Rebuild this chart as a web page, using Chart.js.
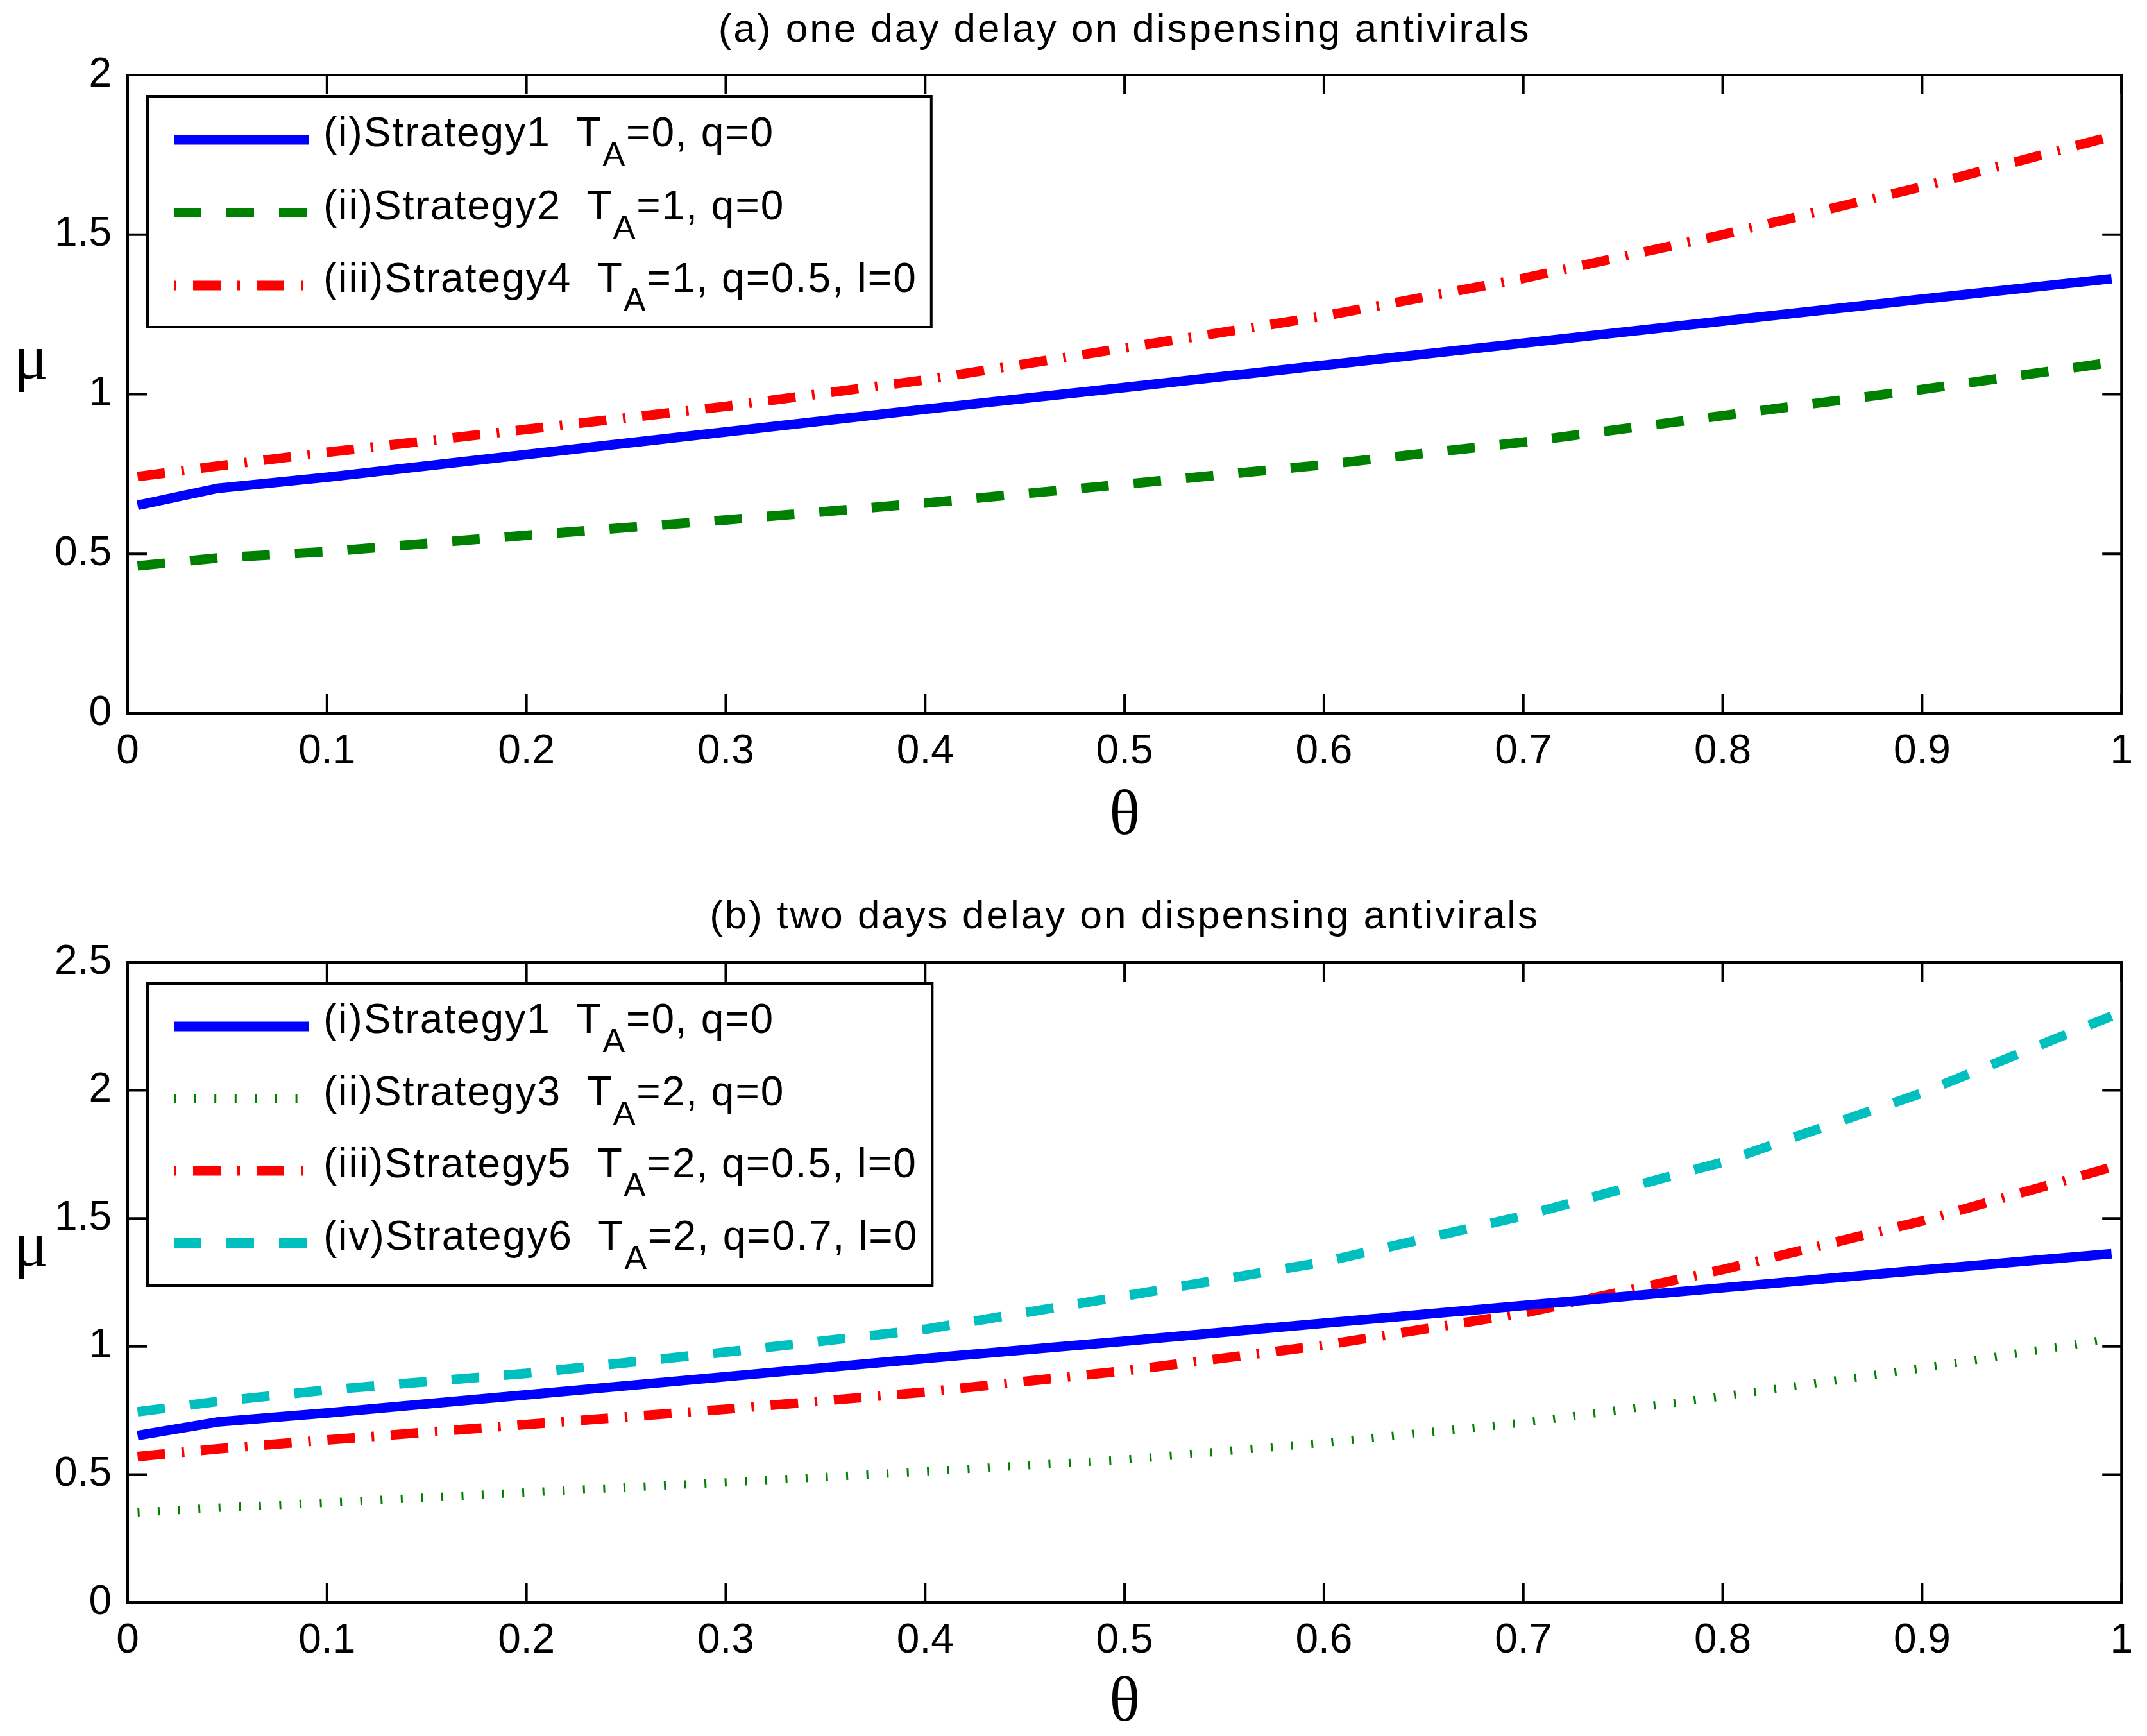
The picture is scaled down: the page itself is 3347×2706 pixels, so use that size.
<!DOCTYPE html>
<html lang="en">
<head>
<meta charset="utf-8">
<script src="https://cdn.jsdelivr.net/npm/chart.js@4.4.1/dist/chart.umd.min.js"></script>
<style>
    body { margin: 0; background: #fff; }
    canvas { position: absolute; left: 0; }
    #chartA { top: 0; }
    #chartB { top: 1353px; }
</style>
</head>
<body>
<canvas id="chartA" width="3347" height="1353"></canvas>
<canvas id="chartB" width="3347" height="1353"></canvas>
<script>
// theta values the curves were read at
var theta = [0.005, 0.045, 0.1, 0.2, 0.3, 0.4, 0.5, 0.6, 0.7, 0.8, 0.9, 0.995];

// mu values
var strategy1 = [0.652, 0.705, 0.740, 0.811, 0.882, 0.953, 1.021, 1.091, 1.160, 1.229, 1.298, 1.362];
var strategy2 = [0.462, 0.487, 0.507, 0.558, 0.606, 0.659, 0.718, 0.779, 0.850, 0.933, 1.015, 1.100];
var strategy4 = [0.742, 0.775, 0.818, 0.890, 0.962, 1.045, 1.145, 1.245, 1.363, 1.500, 1.650, 1.808];
var strategy3 = [0.352, 0.370, 0.390, 0.430, 0.469, 0.512, 0.558, 0.624, 0.702, 0.805, 0.915, 1.030];
var strategy5 = [0.570, 0.600, 0.635, 0.695, 0.755, 0.822, 0.905, 1.005, 1.130, 1.300, 1.490, 1.700];
var strategy6 = [0.745, 0.785, 0.830, 0.895, 0.978, 1.067, 1.197, 1.330, 1.510, 1.720, 1.990, 2.290];

var titleA = "(a) one day delay on dispensing antivirals";
var titleB = "(b) two days delay on dispensing antivirals";
var labelsA = ["(i)Strategy1  T", "(ii)Strategy2  T", "(iii)Strategy4  T"];
var labelsAEnd = ["=0, q=0", "=1, q=0", "=1, q=0.5, l=0"];
var labelsB = ["(i)Strategy1  T", "(ii)Strategy3  T", "(iii)Strategy5  T", "(iv)Strategy6  T"];
var labelsBEnd = ["=0, q=0", "=2, q=0", "=2, q=0.5, l=0", "=2, q=0.7, l=0"];
var subA = "A";

var xMax = 1, yMaxA = 2, yMaxB = 2.5;

var BLUE = '#0000ff', GREEN = '#008000', RED = '#ff0000', CYAN = '#00bfbf';
var SANS = '"Liberation Sans", Arial, sans-serif';
var SERIF = '"Liberation Serif", "Times New Roman", serif';

function pts(ys) {
    return theta.map(function(t, i) { return {x: t, y: ys[i]}; });
}

function line(label, ys, color, dash) {
    return {
        label: label,
        data: pts(ys),
        borderColor: color,
        borderWidth: dash && dash[0] < 5 ? 13 : 15,
        borderDash: dash || [],
        borderCapStyle: 'butt',
        borderJoinStyle: 'round',
        pointRadius: 0,
        tension: 0,
        fill: false
    };
}

function fmt(v) { return String(Number(v.toFixed(2))); }

// box, inward ticks, legend, titles drawn like the matlab figure
function frameLayer(cfg) {
    return {
        id: 'frameLayer',
        afterDatasetsDraw: function(chart) {
            var ctx = chart.ctx, a = chart.chartArea;
            var xs = chart.scales.x, ys = chart.scales.y;
            ctx.save();
            ctx.strokeStyle = '#000';
            ctx.lineWidth = 4;
            ctx.setLineDash([]);
            ctx.strokeRect(a.left, a.top, a.right - a.left, a.bottom - a.top);
            ctx.beginPath();
            xs.ticks.forEach(function(t) {
                var px = xs.getPixelForValue(t.value);
                ctx.moveTo(px, a.bottom); ctx.lineTo(px, a.bottom - 30);
                ctx.moveTo(px, a.top); ctx.lineTo(px, a.top + 30);
            });
            ys.ticks.forEach(function(t) {
                var py = ys.getPixelForValue(t.value);
                ctx.moveTo(a.left, py); ctx.lineTo(a.left + 30, py);
                ctx.moveTo(a.right, py); ctx.lineTo(a.right - 30, py);
            });
            ctx.stroke();

            // legend
            var mainFont = '64px ' + SANS, subFont = '52px ' + SANS;
            ctx.letterSpacing = '2px';
            var widths = cfg.pre.map(function(p, i) {
                ctx.font = mainFont;
                var w = ctx.measureText(p).width + ctx.measureText(cfg.post[i]).width;
                ctx.font = subFont;
                return w + ctx.measureText(subA).width;
            });
            var boxRight = 504 + Math.max.apply(null, widths) + 22;
            ctx.fillStyle = '#fff';
            ctx.fillRect(230, cfg.boxTop, boxRight - 230, cfg.boxBottom - cfg.boxTop);
            ctx.lineWidth = 4;
            ctx.strokeRect(230, cfg.boxTop, boxRight - 230, cfg.boxBottom - cfg.boxTop);

            chart.data.datasets.forEach(function(ds, i) {
                var y = cfg.row0 + i * cfg.rowGap;
                ctx.beginPath();
                ctx.strokeStyle = ds.borderColor;
                ctx.lineWidth = ds.borderWidth;
                ctx.lineCap = 'butt';
                ctx.setLineDash(ds.borderDash);
                ctx.lineDashOffset = cfg.dashOffset[i];
                ctx.moveTo(271, y);
                ctx.lineTo(482, y);
                ctx.stroke();
                ctx.setLineDash([]);

                ctx.fillStyle = '#000';
                ctx.textAlign = 'left';
                ctx.textBaseline = 'alphabetic';
                ctx.font = mainFont;
                var x = 504;
                ctx.fillText(cfg.pre[i], x, y + 10);
                x += ctx.measureText(cfg.pre[i]).width;
                ctx.font = subFont;
                ctx.fillText(subA, x, y + 40);
                x += ctx.measureText(subA).width;
                ctx.font = mainFont;
                ctx.fillText(cfg.post[i], x, y + 10);
            });

            // title
            ctx.fillStyle = '#000';
            ctx.textAlign = 'center';
            ctx.textBaseline = 'alphabetic';
            ctx.letterSpacing = '3px';
            ctx.font = '62px ' + SANS;
            ctx.fillText(cfg.title, (a.left + a.right) / 2, cfg.titleY);

            // axis names
            ctx.letterSpacing = '0px';
            ctx.font = '100px ' + SERIF;
            ctx.fillText('\u03bc', 48, cfg.muY);
            ctx.fillText('\u03b8', (a.left + a.right) / 2, cfg.thetaY);
            ctx.restore();
        }
    };
}

function makeOptions(yMax, padTop, xHeight) {
    return {
        responsive: false,
        devicePixelRatio: 1,
        animation: false,
        layout: { padding: { left: 0, top: padTop, right: 32, bottom: 0 } },
        plugins: { legend: { display: false }, tooltip: { enabled: false }, title: { display: false } },
        scales: {
            x: {
                type: 'linear', min: 0, max: xMax,
                grid: { display: false, drawTicks: false },
                border: { display: false },
                ticks: {
                    stepSize: 0.1, autoSkip: false, maxRotation: 0, padding: 22,
                    color: '#000', font: { family: SANS, size: 64 },
                    callback: fmt
                },
                afterFit: function(s) { s.height = xHeight; }
            },
            y: {
                type: 'linear', min: 0, max: yMax,
                grid: { display: false, drawTicks: false },
                border: { display: false },
                ticks: {
                    stepSize: 0.5, padding: 25,
                    color: '#000', font: { family: SANS, size: 64 },
                    callback: fmt
                },
                afterFit: function(s) { s.width = 199; }
            }
        }
    };
}

new Chart(document.getElementById('chartA'), {
    type: 'line',
    data: {
        datasets: [
            line(labelsA[0], strategy1, BLUE),
            line(labelsA[1], strategy2, GREEN, [43, 39]),
            line(labelsA[2], strategy4, RED, [43, 26, 4, 26])
        ]
    },
    options: makeOptions(yMaxA, 117, 1353 - 1112),
    plugins: [frameLayer({
        title: titleA, titleY: 65, muY: 590, thetaY: 1300,
        pre: labelsA, post: labelsAEnd, dashOffset: [0, 0, 69],
        boxTop: 150, boxBottom: 510, row0: 218, rowGap: 113.5
    })]
});

new Chart(document.getElementById('chartB'), {
    type: 'line',
    data: {
        datasets: [
            line(labelsB[0], strategy1, BLUE),
            line(labelsB[1], strategy3, GREEN, [3, 28.6]),
            line(labelsB[2], strategy5, RED, [43, 26, 4, 26]),
            line(labelsB[3], strategy6, CYAN, [43, 39])
        ]
    },
    options: makeOptions(yMaxB, 147, 1353 - 1145),
    plugins: [frameLayer({
        title: titleB, titleY: 94, muY: 620, thetaY: 1329,
        pre: labelsB, post: labelsBEnd, dashOffset: [0, 0, 69, 0],
        boxTop: 180, boxBottom: 651, row0: 247, rowGap: 112.5
    })]
});
</script>
</body>
</html>
